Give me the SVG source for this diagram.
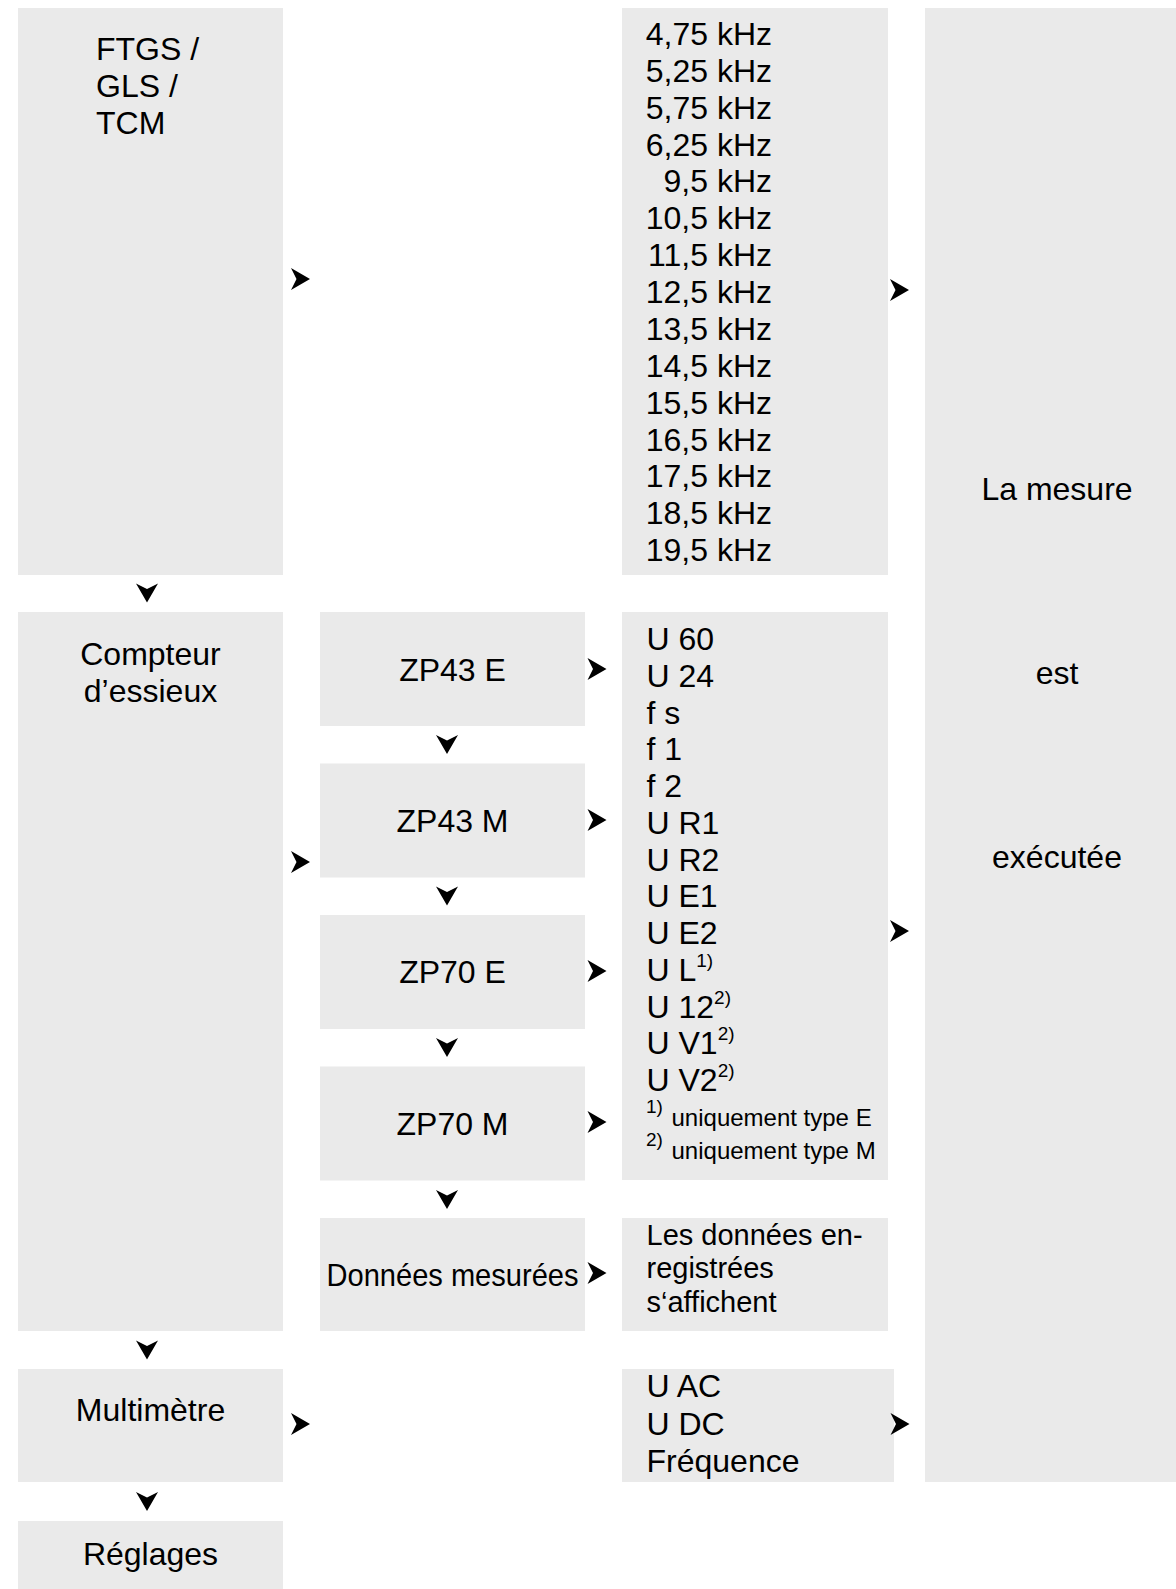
<svg xmlns="http://www.w3.org/2000/svg" xmlns:xlink="http://www.w3.org/1999/xlink" width="1176" height="1589" viewBox="0 0 1176 1589">
<style>
.box{fill:#eaeaea;stroke:none}
text{font-family:"Liberation Sans",Arial,sans-serif;font-size:32px;fill:#000}
.c{text-anchor:middle}
.e{text-anchor:end}
.sm{font-size:29px}
.dm{font-size:31.5px}
.fn{font-size:24px}
.sup{font-size:19px}
.arr{fill:#000}
</style>
<defs>
<path id="ar" d="M-9.5,-11 L9.5,0 L-9.5,11 L-4,0 Z"/>
</defs>
<rect width="1176" height="1589" fill="#ffffff"/>
<g id="ftgs">
<rect class="box" x="18" y="8" width="265" height="567"/>
<text x="96" y="60">FTGS /</text>
<text x="96" y="96.8">GLS /</text>
<text x="96" y="133.6">TCM</text>
</g>
<g id="freq">
<rect class="box" x="622" y="8" width="266" height="567"/>
<text class="e" x="772" y="45">4,75 kHz</text>
<text class="e" x="772" y="81.9">5,25 kHz</text>
<text class="e" x="772" y="118.7">5,75 kHz</text>
<text class="e" x="772" y="155.6">6,25 kHz</text>
<text class="e" x="772" y="192.4">9,5 kHz</text>
<text class="e" x="772" y="229.3">10,5 kHz</text>
<text class="e" x="772" y="266.2">11,5 kHz</text>
<text class="e" x="772" y="303">12,5 kHz</text>
<text class="e" x="772" y="339.9">13,5 kHz</text>
<text class="e" x="772" y="376.7">14,5 kHz</text>
<text class="e" x="772" y="413.6">15,5 kHz</text>
<text class="e" x="772" y="450.5">16,5 kHz</text>
<text class="e" x="772" y="487.3">17,5 kHz</text>
<text class="e" x="772" y="524.2">18,5 kHz</text>
<text class="e" x="772" y="561">19,5 kHz</text>
</g>
<g id="mesure">
<rect class="box" x="925" y="8" width="251" height="1474"/>
<text class="c" x="1057" y="500">La mesure</text>
<text class="c" x="1057" y="684">est</text>
<text class="c" x="1057" y="868">exécutée</text>
</g>
<g id="compteur">
<rect class="box" x="18" y="612" width="265" height="719"/>
<text class="c" x="150.5" y="665">Compteur</text>
<text class="c" x="150.5" y="702">d’essieux</text>
</g>
<g id="zp43e">
<rect class="box" x="320" y="612" width="265" height="114"/>
<text class="c" x="452.5" y="681">ZP43 E</text>
</g>
<g id="zp43m">
<rect class="box" x="320" y="763.5" width="265" height="114"/>
<text class="c" x="452.5" y="831.5">ZP43 M</text>
</g>
<g id="zp70e">
<rect class="box" x="320" y="915" width="265" height="114"/>
<text class="c" x="452.5" y="983">ZP70 E</text>
</g>
<g id="zp70m">
<rect class="box" x="320" y="1066.5" width="265" height="114"/>
<text class="c" x="452.5" y="1134.5">ZP70 M</text>
</g>
<g id="donnees">
<rect class="box" x="320" y="1218" width="265" height="113"/>
<text class="c dm" x="452.5" y="1286" textLength="252" lengthAdjust="spacingAndGlyphs">Données mesurées</text>
</g>
<g id="ulist">
<rect class="box" x="622" y="612" width="266" height="568"/>
<text x="646.5" y="650">U 60</text>
<text x="646.5" y="686.8">U 24</text>
<text x="646.5" y="723.5">f s</text>
<text x="646.5" y="760.3">f 1</text>
<text x="646.5" y="797">f 2</text>
<text x="646.5" y="833.8">U R1</text>
<text x="646.5" y="870.5">U R2</text>
<text x="646.5" y="907.3">U E1</text>
<text x="646.5" y="944">U E2</text>
<text x="646.5" y="980.8">U L<tspan class="sup" dy="-14">1)</tspan></text>
<text x="646.5" y="1017.5">U 12<tspan class="sup" dy="-14">2)</tspan></text>
<text x="646.5" y="1054.3">U V1<tspan class="sup" dy="-14">2)</tspan></text>
<text x="646.5" y="1091">U V2<tspan class="sup" dy="-14">2)</tspan></text>
<text class="sup" x="646" y="1113">1)</text>
<text class="fn" x="671.5" y="1126">uniquement type E</text>
<text class="sup" x="646" y="1146">2)</text>
<text class="fn" x="671.5" y="1159">uniquement type M</text>
</g>
<g id="affichent">
<rect class="box" x="622" y="1218" width="266" height="113"/>
<text class="sm" x="646.5" y="1245">Les données en-</text>
<text class="sm" x="646.5" y="1278.3">registrées</text>
<text class="sm" x="646.5" y="1311.6">s‘affichent</text>
</g>
<g id="multimetre">
<rect class="box" x="18" y="1369" width="265" height="113"/>
<text class="c" x="150.5" y="1421">Multimètre</text>
</g>
<g id="uac">
<rect class="box" x="622" y="1369" width="272" height="113"/>
<text x="646.5" y="1397">U AC</text>
<text x="646.5" y="1435">U DC</text>
<text x="646.5" y="1472">Fréquence</text>
</g>
<g id="reglages">
<rect class="box" x="18" y="1521" width="265" height="68"/>
<text class="c" x="150.5" y="1565">Réglages</text>
</g>
<g id="connectors" class="arr">
<use xlink:href="#ar" transform="translate(300.5,279)"/>
<use xlink:href="#ar" transform="translate(899.5,290)"/>
<use xlink:href="#ar" transform="translate(597,669)"/>
<use xlink:href="#ar" transform="translate(597,820)"/>
<use xlink:href="#ar" transform="translate(300.5,862)"/>
<use xlink:href="#ar" transform="translate(597,971)"/>
<use xlink:href="#ar" transform="translate(899.5,931)"/>
<use xlink:href="#ar" transform="translate(597,1122)"/>
<use xlink:href="#ar" transform="translate(597,1273)"/>
<use xlink:href="#ar" transform="translate(300.5,1424)"/>
<use xlink:href="#ar" transform="translate(900,1424)"/>
<use xlink:href="#ar" transform="translate(147,593) rotate(90)"/>
<use xlink:href="#ar" transform="translate(447,744.5) rotate(90)"/>
<use xlink:href="#ar" transform="translate(447,896) rotate(90)"/>
<use xlink:href="#ar" transform="translate(447,1047.5) rotate(90)"/>
<use xlink:href="#ar" transform="translate(447,1199.5) rotate(90)"/>
<use xlink:href="#ar" transform="translate(147,1350) rotate(90)"/>
<use xlink:href="#ar" transform="translate(147,1501.5) rotate(90)"/>
</g>
</svg>
